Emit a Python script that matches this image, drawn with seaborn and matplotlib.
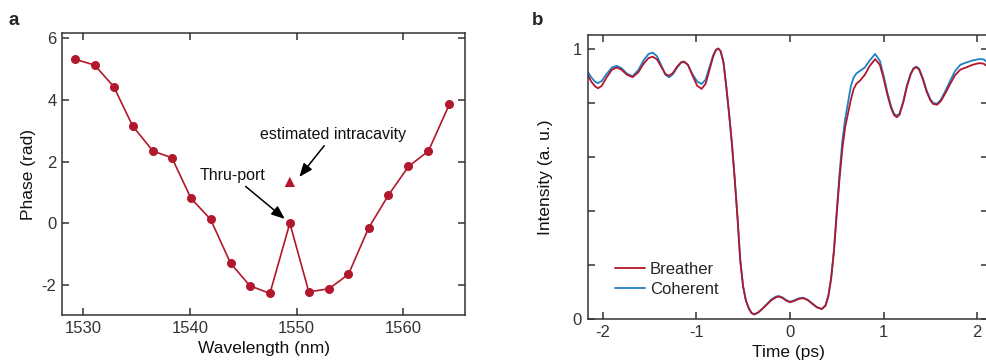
import numpy as np
import pandas as pd
import matplotlib

matplotlib.use("Agg")
import matplotlib.pyplot as plt
import seaborn as sns

# panel a: phase vs wavelength
wavelength = [1529.2, 1531.06, 1532.85, 1534.63, 1536.53, 1538.31, 1540.09, 1541.94,
              1543.81, 1545.62, 1547.5, 1549.37, 1551.15, 1553.03, 1554.87, 1556.75,
              1558.62, 1560.5, 1562.37, 1564.34]
phase = [5.32, 5.13, 4.43, 3.15, 2.34, 2.12, 0.81, 0.12,
         -1.30, -2.03, -2.28, 0.0, -2.23, -2.13, -1.66, -0.16,
         0.91, 1.84, 2.34, 3.86]
intracavity_wl = [1549.37]
intracavity_phase = [1.34]

# panel b: intensity vs time
time_ps = [-2.16, -2.12, -2.08, -2.05, -2.01, -1.96, -1.90, -1.85, -1.80, -1.74,
           -1.68, -1.62, -1.56, -1.51, -1.466, -1.42, -1.37, -1.33, -1.29, -1.25,
           -1.20, -1.16, -1.13, -1.09, -1.04, -0.99, -0.943, -0.90, -0.86, -0.82,
           -0.79, -0.765, -0.74, -0.71, -0.68, -0.65, -0.62, -0.59, -0.56, -0.53,
           -0.50, -0.47, -0.44, -0.41, -0.38, -0.34, -0.30, -0.25, -0.20, -0.15,
           -0.12, -0.08, -0.04, 0.0, 0.04, 0.09, 0.14, 0.19, 0.24, 0.29,
           0.34, 0.38, 0.41, 0.44, 0.47, 0.50, 0.53, 0.56, 0.59, 0.62,
           0.65, 0.68, 0.71, 0.75, 0.80, 0.85, 0.91, 0.96, 1.00, 1.04,
           1.08, 1.11, 1.14, 1.17, 1.21, 1.25, 1.29, 1.32, 1.35, 1.38,
           1.42, 1.46, 1.50, 1.53, 1.57, 1.61, 1.66, 1.71, 1.76, 1.82,
           1.88, 1.95, 2.02, 2.07, 2.12]
breather = [0.903, 0.877, 0.860, 0.853, 0.862, 0.892, 0.922, 0.930, 0.922, 0.903,
            0.894, 0.912, 0.945, 0.965, 0.970, 0.960, 0.930, 0.906, 0.899, 0.910,
            0.935, 0.950, 0.952, 0.940, 0.900, 0.862, 0.851, 0.870, 0.920, 0.970,
            0.995, 1.000, 0.990, 0.950, 0.860, 0.760, 0.650, 0.520, 0.375, 0.215,
            0.120, 0.068, 0.040, 0.022, 0.017, 0.024, 0.036, 0.052, 0.069, 0.080,
            0.083, 0.078, 0.068, 0.062, 0.066, 0.074, 0.077, 0.070, 0.056, 0.043,
            0.037, 0.050, 0.085, 0.150, 0.250, 0.390, 0.520, 0.630, 0.710, 0.760,
            0.810, 0.850, 0.870, 0.882, 0.903, 0.935, 0.961, 0.940, 0.890, 0.830,
            0.780, 0.755, 0.746, 0.755, 0.800, 0.860, 0.905, 0.925, 0.931, 0.922,
            0.885, 0.840, 0.808, 0.795, 0.792, 0.805, 0.835, 0.868, 0.900, 0.922,
            0.930, 0.940, 0.946, 0.944, 0.930]
coherent = [0.915, 0.893, 0.877, 0.872, 0.880, 0.905, 0.930, 0.936, 0.928, 0.907,
            0.898, 0.920, 0.958, 0.980, 0.985, 0.972, 0.935, 0.903, 0.894, 0.905,
            0.932, 0.948, 0.950, 0.940, 0.905, 0.878, 0.869, 0.885, 0.930, 0.975,
            0.996, 1.000, 0.990, 0.950, 0.860, 0.760, 0.650, 0.520, 0.375, 0.215,
            0.120, 0.068, 0.040, 0.022, 0.017, 0.024, 0.036, 0.054, 0.072, 0.083,
            0.085, 0.080, 0.070, 0.064, 0.068, 0.076, 0.079, 0.071, 0.057, 0.043,
            0.037, 0.050, 0.085, 0.150, 0.255, 0.400, 0.540, 0.660, 0.740, 0.800,
            0.860, 0.893, 0.908, 0.918, 0.930, 0.955, 0.980, 0.955, 0.900, 0.838,
            0.786, 0.760, 0.751, 0.760, 0.805, 0.865, 0.908, 0.928, 0.933, 0.925,
            0.890, 0.845, 0.812, 0.799, 0.796, 0.810, 0.843, 0.880, 0.915, 0.940,
            0.948, 0.956, 0.961, 0.960, 0.944]

red = "#B2182B"
blue = "#1F80C6"
dark = "#333333"

sns.set_theme(style="ticks")
plt.rcParams["font.family"] = ["Liberation Sans", "DejaVu Sans"]
plt.rcParams.update({
    "axes.unicode_minus": False,
    "axes.edgecolor": dark,
    "axes.linewidth": 1.1,
    "xtick.color": dark,
    "ytick.color": dark,
    "xtick.labelcolor": dark,
    "ytick.labelcolor": dark,
    "xtick.direction": "in",
    "ytick.direction": "in",
    "xtick.major.size": 5,
    "ytick.major.size": 5,
    "xtick.major.width": 1.1,
    "ytick.major.width": 1.1,
    "xtick.labelsize": 12,
    "ytick.labelsize": 12,
    "axes.labelsize": 12.5,
    "axes.labelcolor": "#111111",
})

fig = plt.figure(figsize=(9.86, 3.64), dpi=100)
ax1 = fig.add_axes([0.0629, 0.1346, 0.4087, 0.7747])
ax2 = fig.add_axes([0.5960, 0.1236, 0.4065, 0.7802])

# panel a
dfa = pd.DataFrame({"Wavelength": wavelength, "Phase": phase})
sns.lineplot(data=dfa, x="Wavelength", y="Phase", sort=False, color=red, lw=1.2,
             marker="o", markersize=6.5, markeredgewidth=0, ax=ax1)
sns.scatterplot(x=intracavity_wl, y=intracavity_phase, marker="^", s=55,
                color=red, edgecolor="none", ax=ax1, zorder=3)
ax1.set(xlim=(1528, 1565.8), ylim=(-2.98, 6.17),
        xticks=[1530, 1540, 1550, 1560], yticks=[-2, 0, 2, 4, 6],
        xlabel="Wavelength (nm)", ylabel="Phase (rad)")
ax1.tick_params(top=True, right=True, pad=4)
arrow = dict(arrowstyle="-|>,head_length=0.7,head_width=0.28", color="black", lw=1.1,
             shrinkA=0, shrinkB=2)
ax1.annotate("estimated intracavity", xy=(1550.1, 1.43), xytext=(1553.4, 2.62),
             ha="center", va="bottom", fontsize=11.5, color="#111111", arrowprops=arrow)
ax1.annotate("Thru-port", xy=(1549.1, 0.08), xytext=(1544.0, 1.3),
             ha="center", va="bottom", fontsize=11.5, color="#111111", arrowprops=arrow)

# panel b
sns.lineplot(x=time_ps, y=coherent, sort=False, color=blue, lw=1.3, ax=ax2,
             label="Coherent")
sns.lineplot(x=time_ps, y=breather, sort=False, color=red, lw=1.3, ax=ax2,
             label="Breather")
ax2.set(xlim=(-2.16, 2.12), ylim=(0, 1.05),
        xticks=[-2, -1, 0, 1, 2], yticks=[0, 0.2, 0.4, 0.6, 0.8, 1.0],
        xlabel="Time (ps)")
ax2.set_ylabel("Intensity (a. u.)", labelpad=14.5)
ax2.set_yticklabels(["0", "", "", "", "", "1"])
ax2.tick_params(top=True, right=True, pad=4)
handles, labels = ax2.get_legend_handles_labels()
ax2.legend(handles[::-1], labels[::-1], loc="lower left", bbox_to_anchor=(0.03, 0.025),
           frameon=False, fontsize=12, handlelength=1.8, handletextpad=0.3,
           labelspacing=0.3)

fig.text(0.009, 0.93, "a", fontsize=13.5, fontweight="bold")
fig.text(0.539, 0.93, "b", fontsize=13.5, fontweight="bold")

fig.savefig("out.png", dpi=100)
